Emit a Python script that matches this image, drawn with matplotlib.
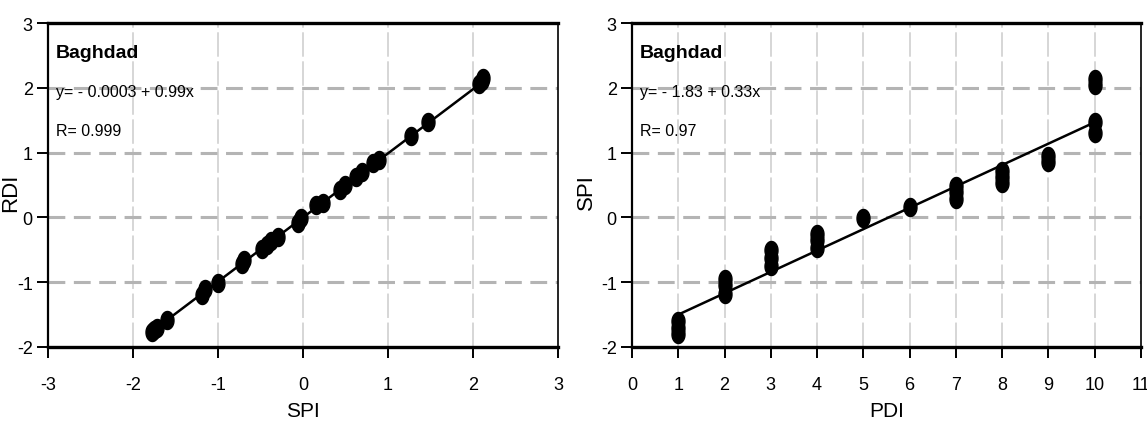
import numpy as np
import matplotlib
matplotlib.use('Agg')
import matplotlib.pyplot as plt

plt.rcParams['font.family'] = ['Liberation Sans', 'DejaVu Sans']
plt.rcParams['axes.unicode_minus'] = False

# left panel: SPI vs RDI
spi_left = [-1.78, -1.75, -1.72, -1.60, -1.19, -1.15, -1.00, -0.72, -0.69,
            -0.48, -0.42, -0.38, -0.29, -0.06, -0.02, 0.15, 0.24, 0.44, 0.50,
            0.62, 0.70, 0.82, 0.90, 1.27, 1.47, 2.07, 2.10, 2.12]
rdi_left = [-1.77, -1.74, -1.71, -1.58, -1.20, -1.10, -1.01, -0.72, -0.66,
            -0.48, -0.42, -0.37, -0.30, -0.08, -0.01, 0.19, 0.23, 0.43, 0.50,
            0.62, 0.70, 0.84, 0.88, 1.26, 1.47, 2.06, 2.10, 2.15]
fit_left = (-0.0003, 0.99)

# right panel: PDI vs SPI
pdi_right = [1, 1, 1, 2, 2, 2, 3, 3, 3, 4, 4, 4, 5, 6,
             7, 7, 7, 8, 8, 8, 9, 9, 10, 10, 10, 10]
spi_right = [-1.60, -1.70, -1.80, -0.95, -1.05, -1.18, -0.50, -0.62, -0.75,
             -0.25, -0.35, -0.47, -0.01, 0.16, 0.48, 0.40, 0.28, 0.72, 0.62,
             0.53, 0.95, 0.85, 2.14, 2.04, 1.48, 1.30]
fit_right = (-1.83, 0.33)

# tall ellipse marker
t = np.linspace(0, 2 * np.pi, 40)
ell = list(zip(0.72 * np.cos(t), np.sin(t)))

fig = plt.figure(figsize=(11.47, 4.39), dpi=100)
ax1 = fig.add_axes([0.0418, 0.2073, 0.4447, 0.7377])
ax2 = fig.add_axes([0.5510, 0.2073, 0.4438, 0.7377])


def style(ax, xt, yt):
    ax.set_xticks(xt)
    ax.set_yticks(yt)
    ax.set_xlim(xt[0], xt[-1])
    ax.set_ylim(yt[0], yt[-1])
    for x in xt[1:-1]:
        ax.axvline(x, color='#cccccc', lw=1.1, ls=(0, (16, 3)), zorder=0)
    for y in yt[1:-1]:
        ax.axhline(y, color='#b4b4b4', lw=2.2, ls=(0, (5.5, 2.8)), zorder=0)
    ax.spines['top'].set_linewidth(2.4)
    ax.spines['bottom'].set_linewidth(2.4)
    ax.spines['left'].set_linewidth(1.6)
    ax.spines['right'].set_linewidth(1.2)
    ax.tick_params(direction='out', length=8, width=1.4, labelsize=13, pad=13)
    ax.tick_params(axis='y', pad=3)


style(ax1, [-3, -2, -1, 0, 1, 2, 3], [-2, -1, 0, 1, 2, 3])
style(ax2, list(range(0, 12)), [-2, -1, 0, 1, 2, 3])

xl = np.array([min(spi_left), max(spi_left)])
ax1.plot(xl, fit_left[0] + fit_left[1] * xl, color='black', lw=1.8, zorder=2)
ax1.plot(spi_left, rdi_left, ls='none', marker=ell, ms=13, color='black', zorder=3)

xr = np.array([min(pdi_right), max(pdi_right)])
ax2.plot(xr, fit_right[0] + fit_right[1] * xr, color='black', lw=1.8, zorder=2)
ax2.plot(pdi_right, spi_right, ls='none', marker=ell, ms=13, color='black', zorder=3)

ax1.set_xlabel('SPI', fontsize=15, labelpad=6)
ax1.set_ylabel('RDI', fontsize=16)
ax2.set_xlabel('PDI', fontsize=15, labelpad=6)
ax2.set_ylabel('SPI', fontsize=16)
ax1.yaxis.set_label_coords(-0.052, 0.48)
ax2.yaxis.set_label_coords(-0.068, 0.48)

for ax, eq, r in [(ax1, 'y= - 0.0003 + 0.99x', 'R= 0.999'),
                  (ax2, 'y= - 1.83 + 0.33x', 'R= 0.97')]:
    ax.text(0.015, 0.91, 'Baghdad', transform=ax.transAxes, fontsize=14,
            fontweight='bold', va='center')
    ax.text(0.015, 0.79, eq, transform=ax.transAxes, fontsize=11.5, va='center')
    ax.text(0.015, 0.67, r, transform=ax.transAxes, fontsize=11.5, va='center')

fig.savefig('out.png', dpi=100)
